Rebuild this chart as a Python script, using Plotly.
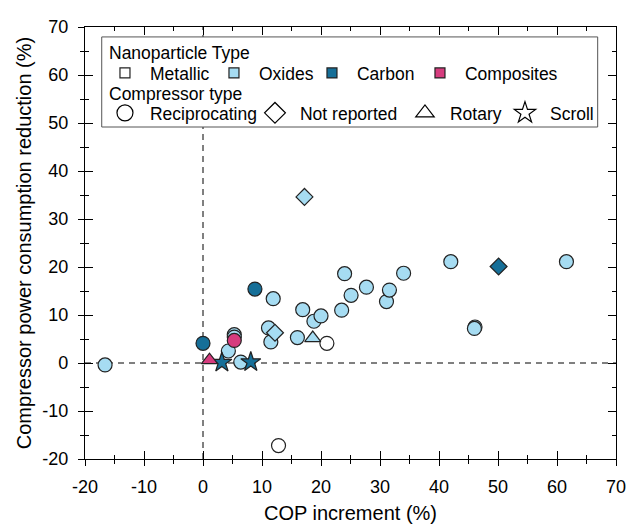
import plotly.graph_objects as go

# ---------------- data ----------------
type_names = ["Metallic", "Oxides", "Carbon", "Composites"]
type_colors = ["#FFFFFF", "#A6DCF2", "#166F98", "#D63C7E"]

comp_names = ["Reciprocating", "Not reported", "Rotary", "Scroll"]
comp_symbols = ["circle", "diamond", "triangle-up", "star"]

metallic_recip_x = [21.0, 12.8]
metallic_recip_y = [4.1, -17.2]

oxides_recip_x = [-16.6, 6.4, 4.3, 5.3, 5.3, 11.1, 11.5, 11.9, 16.0, 16.9, 18.8, 20.0,
                  23.5, 24.0, 25.1, 27.7, 31.1, 31.6, 34.0, 42.0, 46.1, 46.0, 61.6]
oxides_recip_y = [-0.4, 0.2, 2.5, 5.9, 5.4, 7.3, 4.4, 13.4, 5.3, 11.1, 8.7, 9.8,
                  11.0, 18.6, 14.1, 15.8, 12.8, 15.2, 18.7, 21.1, 7.5, 7.2, 21.1]

oxides_nr_x = [12.2, 17.2]
oxides_nr_y = [6.3, 34.6]

oxides_rotary_x = [18.6]
oxides_rotary_y = [5.2]

carbon_recip_x = [0.0, 8.8]
carbon_recip_y = [4.1, 15.4]

carbon_nr_x = [50.1]
carbon_nr_y = [20.1]

carbon_scroll_x = [3.2, 8.1]
carbon_scroll_y = [0.1, 0.2]

composites_recip_x = [5.3]
composites_recip_y = [4.7]

composites_rotary_x = [1.1]
composites_rotary_y = [0.6]

tick_vals = [-20, -10, 0, 10, 20, 30, 40, 50, 60, 70]
tick_text = ["-20", "-10", "0", "10", "20", "30", "40", "50", "60", "70"]

x_title = "COP increment (%)"
y_title = "Compressor power consumption reduction (%)"
legend1_title = "Nanoparticle Type"
legend2_title = "Compressor type"

# ---------------- figure ----------------
FONT = "Liberation Sans, Arial, sans-serif"
OUTLINE = "#222222"
sizes = {"circle": 14, "diamond": 13, "triangle-up": 14, "star": 15}

series = [
    ("Metallic", "circle", metallic_recip_x, metallic_recip_y),
    ("Oxides", "circle", oxides_recip_x, oxides_recip_y),
    ("Oxides", "diamond", oxides_nr_x, oxides_nr_y),
    ("Oxides", "triangle-up", oxides_rotary_x, oxides_rotary_y),
    ("Carbon", "circle", carbon_recip_x, carbon_recip_y),
    ("Carbon", "diamond", carbon_nr_x, carbon_nr_y),
    ("Carbon", "star", carbon_scroll_x, carbon_scroll_y),
    ("Composites", "circle", composites_recip_x, composites_recip_y),
    ("Composites", "triangle-up", composites_rotary_x, composites_rotary_y),
]

fig = go.Figure()

for tname, sym, xs, ys in series:
    col = type_colors[type_names.index(tname)]
    fig.add_trace(go.Scatter(
        x=xs, y=ys, mode="markers", showlegend=False,
        marker=dict(symbol=sym, size=sizes[sym], color=col,
                    line=dict(color=OUTLINE, width=1.2)),
        hoverinfo="x+y",
    ))

leg1_widths = [54, 43, 53, 90]
for name, col, w in zip(type_names, type_colors, leg1_widths):
    fig.add_trace(go.Scatter(
        x=[None], y=[None], mode="markers", name=name, legend="legend",
        legendwidth=w,
        marker=dict(symbol="square", size=10, color=col,
                    line=dict(color=OUTLINE, width=1.2)),
    ))

leg2_widths = [95, 95, 45, 40]
for name, sym, w in zip(comp_names, comp_symbols, leg2_widths):
    fig.add_trace(go.Scatter(
        x=[None], y=[None], mode="markers", name=name, legend="legend2",
        legendwidth=w,
        marker=dict(symbol=sym, size=16, color="white",
                    line=dict(color="black", width=1.2)),
    ))

# dashed reference lines at zero
fig.add_shape(type="line", xref="x", yref="y domain", x0=0, x1=0, y0=0, y1=1,
              line=dict(color="black", width=1, dash="6px,5px"), layer="below")
fig.add_shape(type="line", xref="x domain", yref="y", x0=0, x1=1, y0=0, y1=0,
              line=dict(color="black", width=1, dash="6px,5px"), layer="below")

# legend frame (white, covers the dashed line)
fig.add_shape(type="rect", xref="paper", yref="paper",
              x0=0.0315, x1=0.9655, y0=0.7685, y1=0.977,
              line=dict(color="#555555", width=1), fillcolor="white", layer="below")

fig.add_annotation(text=legend1_title, xref="paper", yref="paper", x=0.0414, y=0.940,
                   xanchor="left", yanchor="middle", showarrow=False,
                   font=dict(size=17.5, family=FONT, color="black"))
fig.add_annotation(text=legend2_title, xref="paper", yref="paper", x=0.0414, y=0.846,
                   xanchor="left", yanchor="middle", showarrow=False,
                   font=dict(size=17.5, family=FONT, color="black"))

axis_common = dict(
    showgrid=False, zeroline=False, showline=True, linecolor="black", linewidth=1.3,
    tickcolor="black", tickwidth=1.3, tickmode="array", tickvals=tick_vals, ticktext=tick_text,
    automargin=False,
)

fig.update_layout(
    width=628, height=528,
    margin=dict(l=85, r=12, t=27, b=69),
    paper_bgcolor="white", plot_bgcolor="white",
    font=dict(family=FONT, size=17.5, color="black"),
    xaxis=dict(range=[-20, 70], ticks="inside", ticklen=8,
               mirror="ticks",
               minor=dict(ticks="inside", ticklen=4, dtick=5, tick0=0, tickcolor="black", tickwidth=1.3),
               tickfont=dict(size=18), ticklabelstandoff=11,
               title=dict(text=x_title, font=dict(size=20), standoff=10),
               **axis_common),
    yaxis=dict(range=[-20, 70], ticks="inside", ticklen=8,
               mirror="ticks",
               minor=dict(ticks="inside", ticklen=4, dtick=5, tick0=0, tickcolor="black", tickwidth=1.3),
               tickfont=dict(size=18), ticklabelstandoff=12,
               title=dict(text=y_title, font=dict(size=20), standoff=5),
               **axis_common),
    xaxis2=dict(overlaying="x", matches="x", side="bottom", anchor="y",
                ticks="outside", ticklen=6, dtick=10, tick0=0, showticklabels=False,
                showgrid=False, zeroline=False, showline=False, automargin=False,
                tickcolor="black", tickwidth=1.3,
                minor=dict(ticks="outside", ticklen=4, dtick=5, tickcolor="black", tickwidth=1.3)),
    yaxis2=dict(overlaying="y", matches="y", side="left", anchor="x",
                ticks="outside", ticklen=6, dtick=10, tick0=0, showticklabels=False,
                showgrid=False, zeroline=False, showline=False, automargin=False,
                tickcolor="black", tickwidth=1.3,
                minor=dict(ticks="outside", ticklen=4, dtick=5, tickcolor="black", tickwidth=1.3)),
    legend=dict(x=0.0282, y=0.935, xanchor="left", yanchor="top", orientation="h",
                bgcolor="rgba(0,0,0,0)", borderwidth=0, font=dict(size=17.5),
                itemsizing="trace", itemwidth=40, entrywidthmode="pixels"),
    legend2=dict(x=0.0282, y=0.8426, xanchor="left", yanchor="top", orientation="h",
                 bgcolor="rgba(0,0,0,0)", borderwidth=0, font=dict(size=17.5),
                 itemsizing="trace", itemwidth=40, entrywidthmode="pixels"),
    showlegend=True,
)

fig.add_trace(go.Scatter(x=[None], y=[None], xaxis="x2", yaxis="y2",
                         showlegend=False, hoverinfo="skip"))

fig.write_html("out.html")
